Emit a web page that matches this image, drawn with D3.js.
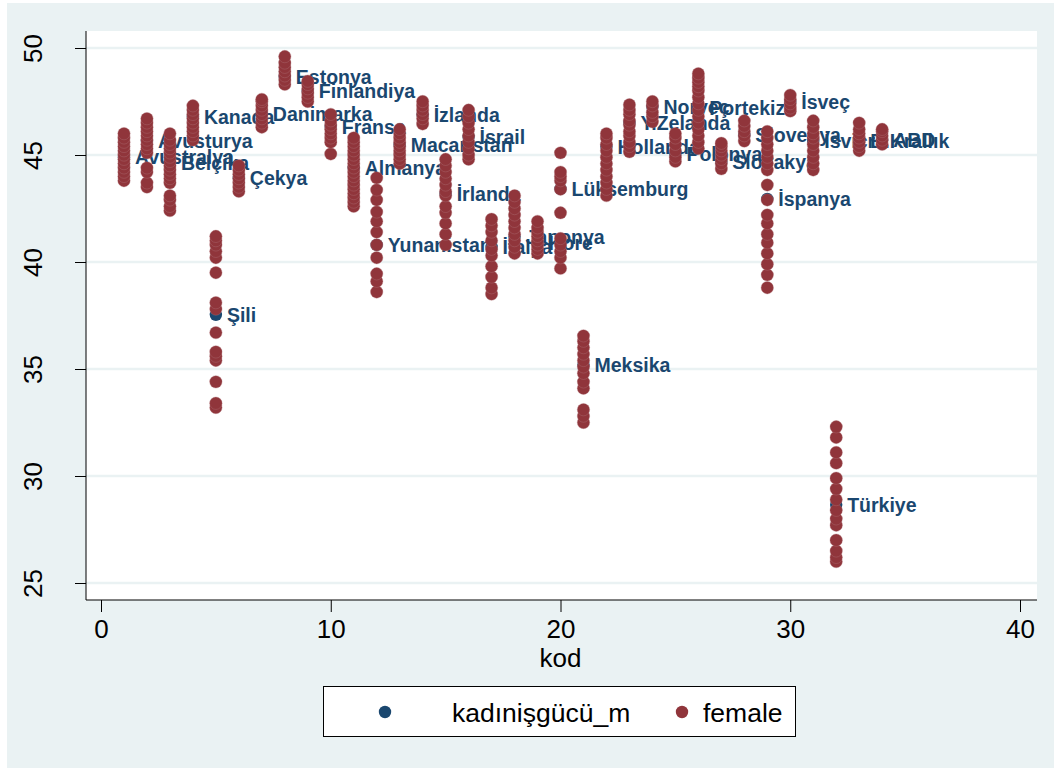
<!DOCTYPE html>
<html><head><meta charset="utf-8">
<script src="https://cdn.jsdelivr.net/npm/d3@7"></script>
<style>body{margin:0;background:#fff}svg{display:block}text{font-family:"Liberation Sans",Arial,sans-serif}</style>
</head><body>
<svg id="c" width="1054" height="769"></svg>
<script>
const kod = [1,2,3,4,5,6,7,8,9,10,11,12,13,14,15,16,17,18,19,20,21,22,23,24,25,26,27,28,29,30,31,32,33,34];
const countries = ["Avustralya","Avusturya","Belçika","Kanada","Şili","Çekya","Danimarka","Estonya","Finlandiya","Fransa","Almanya","Yunanistan","Macaristan","İzlanda","İrlanda","İsrail","İtalya","Japonya","Kore","Lüksemburg","Meksika","Hollanda","Y.Zelanda","Norveç","Polonya","Portekiz","Slovakya","Slovenya","İspanya","İsveç","İsviçre","Türkiye","B.Krallık","ABD"];
const kadinisgucu_m = [44.9,45.66,44.63,46.78,37.53,43.93,46.92,48.65,47.99,46.31,44.4,40.8,45.47,46.87,43.18,45.85,40.71,41.18,40.9,43.42,35.2,45.38,46.5,47.25,45.05,47.2,44.68,45.94,42.95,47.48,45.66,28.66,45.66,45.7];
const female = [
  [43.8,44.0,44.2,44.4,44.6,44.8,45.0,45.2,45.4,45.6,45.8,46.0],
  [43.5,43.7,44.2,44.4,45.1,45.3,45.5,45.7,45.9,46.1,46.3,46.5,46.7],
  [42.4,42.6,42.9,43.1,43.7,43.9,44.1,44.3,44.5,44.7,44.9,45.1,45.3,45.5,45.7,46.0],
  [45.7,45.9,46.1,46.3,46.5,46.7,46.9,47.1,47.3],
  [33.2,33.4,34.4,35.4,35.6,35.8,36.7,37.8,38.1,39.5,40.2,40.5,40.8,41.0,41.2],
  [43.3,43.5,43.7,43.9,44.1,44.3,44.5],
  [46.3,46.5,46.7,46.9,47.1,47.3,47.5,47.6],
  [48.3,48.5,48.7,48.9,49.1,49.3,49.6],
  [47.5,47.7,47.9,48.1,48.3,48.45],
  [45.05,45.6,45.8,46.0,46.2,46.4,46.6,46.9],
  [42.6,42.8,43.0,43.2,43.4,43.6,43.8,44.0,44.2,44.4,44.6,44.8,45.0,45.2,45.4,45.6,45.8],
  [38.6,39.1,39.45,40.2,40.8,41.4,41.9,42.34,42.9,43.37,43.93],
  [44.6,44.8,45.0,45.2,45.4,45.6,45.8,46.0,46.2],
  [46.45,46.7,46.9,47.1,47.3,47.5],
  [40.8,41.3,41.8,42.3,42.6,43.1,43.3,43.6,43.9,44.2,44.5,44.8],
  [44.8,45.0,45.3,45.6,45.9,46.2,46.5,46.8,47.1],
  [38.5,38.8,39.3,39.8,40.3,40.6,41.0,41.4,41.7,42.0],
  [40.4,40.7,41.0,41.3,41.6,41.9,42.2,42.5,42.8,43.1],
  [40.4,40.6,40.8,41.0,41.2,41.4,41.6,41.9],
  [39.7,40.2,40.5,40.8,41.1,42.3,43.4,43.8,44.0,44.2,45.1],
  [32.5,32.8,33.1,34.1,34.4,34.8,35.1,35.4,35.7,36.0,36.3,36.55],
  [43.1,43.4,43.7,44.0,44.3,44.6,44.9,45.2,45.5,45.8,46.0],
  [45.15,45.4,45.6,45.9,46.1,46.4,46.6,46.9,47.1,47.35],
  [46.55,46.8,47.0,47.3,47.5],
  [44.7,44.9,45.2,45.5,45.8,46.0],
  [45.3,45.6,45.9,46.2,46.5,46.8,47.1,47.4,47.7,48.0,48.2,48.4,48.6,48.8],
  [44.35,44.6,44.8,45.0,45.2,45.4,45.55],
  [45.65,45.9,46.1,46.35,46.6],
  [38.8,39.4,39.9,40.4,40.9,41.3,41.8,42.2,42.9,43.6,44.3,44.6,44.9,45.2,45.5,45.8,46.1],
  [47.05,47.2,47.4,47.6,47.8],
  [44.3,44.6,44.9,45.2,45.5,45.8,46.0,46.3,46.6],
  [26.0,26.2,26.5,27.0,27.7,28.0,28.4,28.9,29.4,29.9,30.6,31.1,31.8,32.3],
  [45.2,45.4,45.6,45.8,46.0,46.2,46.5],
  [45.5,45.7,45.9,46.1,46.2]
];
const xTicks = [0,10,20,30,40];
const yTicks = [25,30,35,40,45,50];
const seriesNames = ["kadınişgücü_m","female"];
const navy = "#1a476f", maroon = "#90353b", bg = "#eaf2f3";

const svg = d3.select("#c");
svg.append("rect").attr("x",7).attr("y",3).attr("width",1047).attr("height",765).attr("fill",bg);
const L=86, R=1037, T=31, B=600;
svg.append("rect").attr("x",L).attr("y",T).attr("width",R-L).attr("height",B-T).attr("fill","#fff");
const x = d3.scaleLinear().domain([0,40]).range([101,1020]);
const y = d3.scaleLinear().domain([25,50]).range([583,48]);

// grid
svg.append("g").selectAll("line").data(yTicks).join("line")
  .attr("x1",L).attr("x2",R).attr("y1",d=>y(d)).attr("y2",d=>y(d))
  .attr("stroke",bg).attr("stroke-width",2.5);

// axes
const yAxis = d3.axisLeft(y).tickValues(yTicks).tickSize(11).tickPadding(8).tickFormat(d3.format("d"));
const gy = svg.append("g").attr("transform",`translate(${L},0)`).call(yAxis);
gy.select(".domain").attr("d",`M0,${T}V${B}`).attr("stroke","#000");
gy.selectAll(".tick line").attr("stroke","#000");
gy.selectAll(".tick text").attr("font-size",26).attr("fill","#000")
  .attr("text-anchor","middle").attr("x",0).attr("dy",0)
  .attr("transform",function(){return "translate(-53,0) rotate(-90)";})
  .attr("dominant-baseline","central");

const xAxis = d3.axisBottom(x).tickValues(xTicks).tickSize(12).tickPadding(6).tickFormat(d3.format("d"));
const gx = svg.append("g").attr("transform",`translate(0,${B})`).call(xAxis);
gx.select(".domain").attr("d",`M${L},0H${R}`).attr("stroke","#000");
gx.selectAll(".tick line").attr("stroke","#000");
gx.selectAll(".tick text").attr("font-size",26).attr("fill","#000").attr("dy","0.75em");
svg.append("text").attr("x",x(20)).attr("y",667).attr("text-anchor","middle").attr("font-size",26).text("kod");

// series 1: means with labels
const meanData = kod.map((k,i)=>({k, v:kadinisgucu_m[i], name:countries[i]}));
svg.append("g").selectAll("circle").data(meanData).join("circle")
  .attr("cx",d=>x(d.k)).attr("cy",d=>y(d.v)).attr("r",6.2).attr("fill",navy);
svg.append("g").selectAll("text").data(meanData).join("text")
  .attr("x",d=>x(d.k)+11).attr("y",d=>y(d.v)).attr("dy","0.36em")
  .attr("font-size",19.5).attr("font-weight","bold").attr("fill",navy).text(d=>d.name);

// series 2: female
const fData = [];
female.forEach((arr,i)=>arr.forEach(v=>fData.push({k:kod[i], v})));
svg.append("g").selectAll("circle").data(fData).join("circle")
  .attr("cx",d=>x(d.k)).attr("cy",d=>y(d.v)).attr("r",6.2).attr("fill",maroon)
  .attr("stroke","#b0777a").attr("stroke-width",0.6).attr("stroke-opacity",0.6);

// legend
const lg = svg.append("g");
lg.append("rect").attr("x",323.5).attr("y",686.5).attr("width",472).attr("height",50).attr("fill","#fff").attr("stroke","#000").attr("stroke-width",1);
const lx = [385,682], tx=[452,703];
seriesNames.forEach((n,i)=>{
  lg.append("circle").attr("cx",lx[i]).attr("cy",712).attr("r",6.2).attr("fill",i?maroon:navy);
  lg.append("text").attr("x",tx[i]).attr("y",712).attr("dy","0.36em").attr("font-size",26.5).text(n);
});
</script>
</body></html>
